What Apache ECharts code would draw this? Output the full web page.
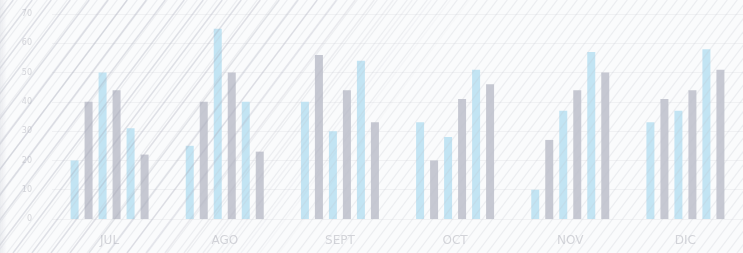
<!DOCTYPE html>
<html>
<head>
<meta charset="utf-8">
<script src="https://cdn.jsdelivr.net/npm/echarts@6/dist/echarts.min.js"></script>
<style>
	html, body { margin: 0; padding: 0; background: #fafbfc; }
	#chart { width: 743px; height: 253px; }
</style>
</head>
<body>
<div id="chart"></div>
<script>

// months on the x axis
var months = ['JUL', 'AGO', 'SEPT', 'OCT', 'NOV', 'DIC'];

// six bars per month, alternating blue / gray
var serie1 = [20, 25, 40, 33, 10, 33];
var serie2 = [40, 40, 56, 20, 27, 41];
var serie3 = [50, 65, 30, 28, 37, 37];
var serie4 = [44, 50, 44, 41, 44, 44];
var serie5 = [31, 40, 54, 51, 57, 58];
var serie6 = [22, 23, 33, 46, 50, 51];

var yTicks = [0, 10, 20, 30, 40, 50, 60, 70];

var blue = '#c2e4f3';
var gray = '#c6c8d2';

/**
 * Builds the diagonal hatch that lies over the whole picture.
 * Wider darker strokes on the left that fade out, fine light strokes everywhere.
 */
function buildHatch(w, h){
	var cv = document.createElement('canvas');
	cv.width = w;
	cv.height = h;
	var ctx = cv.getContext('2d');
	var rise = 1.33;

	// fine strokes
	ctx.lineWidth = 1.2;
	for(var x = -h; x < w + h; x += 10){
		ctx.strokeStyle = 'rgba(190,192,205,0.24)';
		ctx.beginPath();
		ctx.moveTo(x, h);
		ctx.lineTo(x + h / rise, 0);
		ctx.stroke();
	}

	// wider darker strokes, flat on the left then fading out
	ctx.lineWidth = 1.5;
	for(var x = -h; x < w + h; x += 19){
		var mid = x + (h / rise) / 2;
		var a = mid < 160 ? 0.32 : 0.32 * Math.max(0, 1 - (mid - 160) / 240);
		if(a <= 0) continue;
		ctx.strokeStyle = 'rgba(165,167,182,' + a.toFixed(3) + ')';
		ctx.beginPath();
		ctx.moveTo(x, h);
		ctx.lineTo(x + h / rise, 0);
		ctx.stroke();
	}

	// soft shade on the far left edge
	var g = ctx.createLinearGradient(0, 0, 7, 0);
	g.addColorStop(0, 'rgba(200,202,212,0.3)');
	g.addColorStop(1, 'rgba(200,202,212,0)');
	ctx.fillStyle = g;
	ctx.fillRect(0, 0, 7, h);

	return cv;
}

var seriesData = [serie1, serie2, serie3, serie4, serie5, serie6];

var series = seriesData.map(function(data, i){
	return {
		name: 'Serie ' + (i + 1),
		type: 'bar',
		data: data,
		barWidth: 8,
		barGap: '75%',
		itemStyle: { color: i % 2 === 0 ? blue : gray },
		emphasis: { disabled: true }
	};
});

var chart = echarts.init(document.getElementById('chart'), null, { renderer: 'canvas' });

var option = {
	backgroundColor: '#fafbfc',
	animation: false,
	grid: {
		left: 52,
		right: -11,
		top: 14,
		bottom: 34,
		containLabel: false
	},
	xAxis: {
		type: 'category',
		data: months,
		axisLine: { show: false },
		axisTick: { show: false },
		axisLabel: {
			margin: 16,
			color: '#d3d4d9',
			fontFamily: 'DejaVu Sans',
			fontSize: 12
		}
	},
	yAxis: {
		type: 'value',
		min: 0,
		max: 70,
		interval: 10,
		axisLine: { show: false },
		axisTick: { show: false },
		axisLabel: {
			margin: 20,
			color: '#d4d5da',
			fontFamily: 'DejaVu Sans',
			fontSize: 8,
			formatter: function(v){ return yTicks.indexOf(v) >= 0 ? String(v) : ''; }
		},
		splitLine: { lineStyle: { color: '#f0f1f3', width: 1 } }
	},
	graphic: [{
		type: 'image',
		left: 0,
		top: 0,
		z: 100,
		silent: true,
		style: { image: buildHatch(743, 253), width: 743, height: 253 }
	}],
	series: series
};

chart.setOption(option);

</script>
</body>
</html>
